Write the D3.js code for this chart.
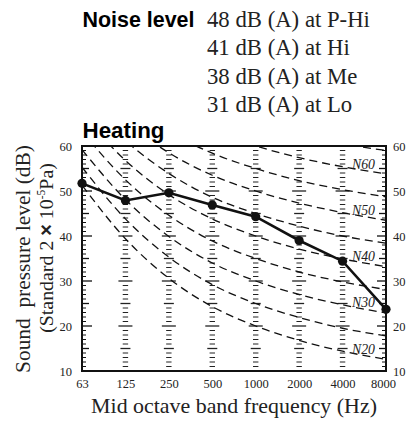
<!DOCTYPE html>
<html><head><meta charset="utf-8">
<script src="https://cdn.jsdelivr.net/npm/d3@7"></script>
<style>
html,body{margin:0;padding:0;background:#fff;}
svg{display:block;}
</style></head>
<body>
<svg id="chart" width="406" height="421"></svg>
<script>
// ---- data ----
const freqLabels = ["63","125","250","500","1000","2000","4000","8000"];
const heatingLevels = [51.7, 47.9, 49.6, 46.9, 44.3, 39.0, 34.4, 23.7];
const yTicks = [10, 20, 30, 40, 50, 60];
const nr20 = [51.3, 39.4, 30.6, 24.3, 20, 16.8, 14.4, 12.6];
const nr25 = [55.3, 43.8, 35.3, 29.2, 25, 21.9, 19.5, 17.8];
const nr30 = [59.2, 48.1, 39.9, 34.0, 30, 27.0, 24.7, 22.9];
const nr35 = [63.2, 52.5, 44.6, 38.9, 35, 32.0, 29.8, 28.1];
const nr40 = [67.1, 56.8, 49.2, 43.8, 40, 37.1, 34.9, 33.2];
const nr45 = [71.1, 61.2, 53.9, 48.6, 45, 42.2, 40.0, 38.4];
const nr50 = [75.0, 65.5, 58.5, 53.5, 50, 47.3, 45.2, 43.5];
const nr55 = [79.0, 69.9, 63.2, 58.4, 55, 52.3, 50.3, 48.7];
const nr60 = [82.9, 74.2, 67.8, 63.2, 60, 57.4, 55.4, 53.8];
const nr65 = [86.9, 78.6, 72.5, 68.1, 65, 62.5, 60.5, 59.0];
const curveLabels = ["N20", "N30", "N40", "N50", "N60"];
const noiseLines = ["48 dB (A) at P-Hi", "41 dB (A) at Hi", "38 dB (A) at Me", "31 dB (A) at Lo"];

const nrCurves = [
  {name:"N20", v:nr20}, {name:"N25", v:nr25}, {name:"N30", v:nr30}, {name:"N35", v:nr35},
  {name:"N40", v:nr40}, {name:"N45", v:nr45}, {name:"N50", v:nr50}, {name:"N55", v:nr55},
  {name:"N60", v:nr60}, {name:"N65", v:nr65}
];

const svg = d3.select("#chart");
const L = 82, R = 386, T = 146, B = 371;
const x = d3.scalePoint().domain(freqLabels).range([L, R]);
const y = d3.scaleLinear().domain([10, 60]).range([B, T]);
const serif = "'Liberation Serif','Times New Roman',Times,serif";
const sans = "'Liberation Sans',Arial,Helvetica,sans-serif";

// scale a text's font-size so that its rendered width matches a target width
function fitSize(sel, target) {
  const n = sel.node();
  const w = n.getComputedTextLength();
  const fs = parseFloat(sel.attr("font-size"));
  if (w > 0) { const s = fs * target / w; sel.attr("font-size", s); return s; }
  return fs;
}

// ---- header ----
const nl = svg.append("text").attr("x", 82.5).attr("y", 26.5)
  .attr("font-family", sans).attr("font-weight", "bold").attr("font-size", 21.5)
  .text("Noise level");
fitSize(nl, 112);
const noise = svg.selectAll("text.noise").data(noiseLines).enter().append("text")
  .attr("class", "noise").attr("x", 207).attr("y", (d, i) => 26.5 + i * 28.5)
  .attr("font-family", serif).attr("font-size", 22).attr("fill", "#222").text(d => d);
const nfs = fitSize(d3.select(noise.nodes()[0]), 163);
noise.attr("font-size", nfs);
const ht = svg.append("text").attr("x", 82.5).attr("y", 138)
  .attr("font-family", sans).attr("font-weight", "bold").attr("font-size", 21.5)
  .text("Heating");
fitSize(ht, 82);

// ---- clip ----
svg.append("clipPath").attr("id", "plotclip").append("rect")
  .attr("x", L).attr("y", T).attr("width", R - L).attr("height", B - T);

// ---- vertical ruler gridlines ----
const minor = d3.range(11, 60);
const rulers = svg.append("g");
freqLabels.slice(1, -1).forEach(f => {
  const cx = x(f);
  rulers.selectAll(null).data(minor).enter().append("line")
    .attr("x1", d => cx - (d % 10 === 0 ? 7 : d % 5 === 0 ? 5 : 2.7))
    .attr("x2", d => cx + (d % 10 === 0 ? 7 : d % 5 === 0 ? 5 : 2.7))
    .attr("y1", d => y(d)).attr("y2", d => y(d))
    .attr("stroke", "#222").attr("stroke-width", d => d % 5 === 0 ? 1.3 : 1);
});

// ---- axis ticks (inside) ----
const axTicks = svg.append("g");
axTicks.selectAll(null).data(minor).enter().append("line")
  .attr("x1", L).attr("x2", d => L + (d % 10 === 0 ? 10 : d % 5 === 0 ? 7 : 4))
  .attr("y1", d => y(d)).attr("y2", d => y(d))
  .attr("stroke", "#111").attr("stroke-width", d => d % 5 === 0 ? 1.3 : 1);
axTicks.selectAll(null).data(minor).enter().append("line")
  .attr("x1", R).attr("x2", d => R - (d % 10 === 0 ? 9 : d % 5 === 0 ? 7 : 4))
  .attr("y1", d => y(d)).attr("y2", d => y(d))
  .attr("stroke", "#111").attr("stroke-width", d => d % 5 === 0 ? 1.3 : 1);

// ---- NR curves ----
const curveLine = d3.line().x((d, i) => x(freqLabels[i])).y(d => y(d)).curve(d3.curveMonotoneX);
svg.append("g").attr("clip-path", "url(#plotclip)")
  .selectAll("path").data(nrCurves).enter().append("path")
  .attr("d", d => curveLine(d.v))
  .attr("fill", "none").attr("stroke", "#111").attr("stroke-width", 1.3)
  .attr("stroke-dasharray", "8,5");

// curve labels
const lx = 352;
const t = (363 - x("4000")) / (x("8000") - x("4000"));
const nrl = svg.selectAll("text.nr").data(nrCurves.filter(c => curveLabels.includes(c.name))).enter()
  .append("text").attr("class", "nr")
  .attr("x", lx)
  .attr("y", d => y(d.v[6] + (d.v[7] - d.v[6]) * t) - 1.5)
  .attr("font-family", serif).attr("font-style", "italic").attr("font-size", 14).attr("fill", "#222")
  .text(d => d.name);
const nrfs = fitSize(d3.select(nrl.nodes()[4]), 23);
nrl.attr("font-size", nrfs);

// ---- frame ----
svg.append("rect").attr("x", L).attr("y", T).attr("width", R - L).attr("height", B - T)
  .attr("fill", "none").attr("stroke", "#111").attr("stroke-width", 2);

// ---- data line ----
const dataLine = d3.line().x((d, i) => x(freqLabels[i])).y(d => y(d));
svg.append("path").attr("d", dataLine(heatingLevels))
  .attr("fill", "none").attr("stroke", "#111").attr("stroke-width", 2.6);
svg.selectAll("circle").data(heatingLevels).enter().append("circle")
  .attr("cx", (d, i) => x(freqLabels[i])).attr("cy", d => y(d)).attr("r", 4.6)
  .attr("fill", "#111");

// ---- axes labels via d3 axes ----
const axL = svg.append("g").attr("transform", `translate(${L},0)`)
  .call(d3.axisLeft(y).tickValues(yTicks).tickSize(0).tickPadding(10));
const axR = svg.append("g").attr("transform", `translate(${R},0)`)
  .call(d3.axisRight(y).tickValues(yTicks).tickSize(0).tickPadding(7));
const axB = svg.append("g").attr("transform", `translate(0,${B})`)
  .call(d3.axisBottom(x).tickSize(0).tickPadding(8));
[axL, axR, axB].forEach(g => {
  g.select(".domain").remove();
  g.selectAll("text").attr("font-family", serif).attr("font-size", 13).attr("fill", "#222");
});
const tkfs = fitSize(axB.selectAll("text").filter(d => d === "1000"), 25);
[axL, axR, axB].forEach(g => g.selectAll("text").attr("font-size", tkfs));
axB.selectAll("text").filter(d => d === "8000").attr("x", -3);

// ---- axis titles ----
const xt = svg.append("text").attr("x", 234).attr("y", 413).attr("text-anchor", "middle")
  .attr("font-family", serif).attr("font-size", 21.5).attr("fill", "#222")
  .text("Mid octave band frequency (Hz)");
fitSize(xt, 286);
const yt1 = svg.append("text").attr("transform", "translate(30,259) rotate(-90)").attr("text-anchor", "middle")
  .attr("font-family", serif).attr("font-size", 21.5).attr("fill", "#222")
  .attr("xml:space", "preserve")
  .text("Sound  pressure level (dB)");
fitSize(yt1, 228);
const t2 = svg.append("text").attr("transform", "translate(53,248) rotate(-90)").attr("text-anchor", "middle")
  .attr("font-family", serif).attr("font-size", 20.5).attr("fill", "#222");
t2.append("tspan").text("(Standard 2 ");
t2.append("tspan").attr("font-family", sans).attr("font-weight", "bold").text("×");
t2.append("tspan").text(" 10");
t2.append("tspan").attr("font-size", 12).attr("dy", -8).text("-5");
t2.append("tspan").attr("dy", 8).text("Pa)");
const t2fs = fitSize(t2, 170);
t2.selectAll("tspan").filter((d, i) => i === 3).attr("font-size", t2fs * 0.58).attr("dy", -t2fs * 0.38);
t2.selectAll("tspan").filter((d, i) => i === 4).attr("dy", t2fs * 0.38);
</script>
</body></html>
